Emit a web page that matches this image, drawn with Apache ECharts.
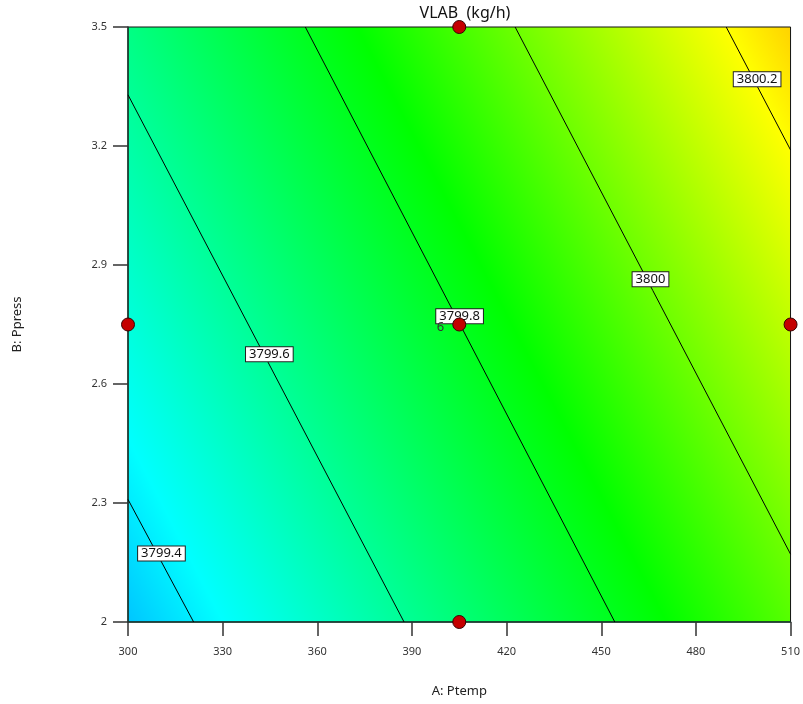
<!DOCTYPE html>
<html>
<head>
<meta charset="utf-8">
<title>VLAB contour</title>
<script src="https://cdn.jsdelivr.net/npm/echarts@6/dist/echarts.min.js"></script>
<style>
  html, body { margin: 0; padding: 0; background: #fff; overflow: hidden; }
  #chart { width: 803px; height: 704px; }
</style>
</head>
<body>
<div id="chart"></div>
<script>
// contour levels and where each line meets the plot border
var contourLevels = [3799.4, 3799.6, 3799.8, 3800, 3800.2];
var contourStarts = [[300, 2.309], [300, 3.329], [356.2, 3.5], [422.7, 3.5], [489.6, 3.5]];
var contourEnds = [[320.8, 2], [387.5, 2], [454.3, 2], [510, 2.171], [510, 3.19]];
var contourLabelPos = [[310.6, 2.173], [344.8, 2.675], [405.1, 2.771], [465.6, 2.864], [499.4, 3.368]];

// design points (A: Ptemp, B: Ppress)
var designPoints = [[300, 2.75], [405, 2.75], [510, 2.75], [405, 2], [405, 3.5]];
var centerReplicates = 6;

// colour scale of the response
var colorValues = [3799.03, 3799.43, 3799.85, 3800.2, 3800.55];
var colorList = ['#0000ff', '#00ffff', '#00ff00', '#ffff00', '#ff0000'];

var xTicks = { min: 300, max: 510, interval: 30 };
var yTicks = { min: 2, max: 3.5, interval: 0.3 };

var chart = echarts.init(document.getElementById('chart'));
var fontFam = 'Noto Sans';

var lineSeries = contourLevels.map(function (lv, i) {
  return {
    name: String(lv),
    type: 'line',
    data: [contourStarts[i], contourEnds[i]],
    symbol: 'none',
    silent: true,
    lineStyle: { color: '#000', width: 1 },
    z: 3
  };
});

var labelData = contourLevels.map(function (lv, i) {
  return { value: contourLabelPos[i].concat([lv]) };
});

var pointData = designPoints.map(function (p) {
  var item = { value: p };
  if (p[0] === 405 && p[1] === 2.75) {
    item.label = {
      show: true,
      position: 'left',
      distance: 8,
      offset: [0, 3],
      formatter: String(centerReplicates),
      color: '#333',
      fontSize: 13,
      fontFamily: fontFam
    };
  }
  return item;
});

chart.setOption({
  animation: false,
  title: {
    text: 'VLAB  (kg/h)',
    left: 460,
    textAlign: 'center',
    top: 0,
    textStyle: { fontSize: 16, fontWeight: 'normal', color: '#111', fontFamily: fontFam }
  },
  grid: {
    left: 128,
    right: 10,
    top: 27,
    bottom: 82,
    show: true,
    borderColor: '#111',
    borderWidth: 1,
    backgroundColor: '#00ff80'
  },
  xAxis: {
    type: 'value',
    min: xTicks.min,
    max: xTicks.max,
    interval: xTicks.interval,
    name: 'A: Ptemp',
    nameLocation: 'middle',
    nameGap: 63,
    nameTextStyle: { fontSize: 13, color: '#222', fontFamily: fontFam },
    axisLine: { lineStyle: { color: '#1a3a30', width: 1.5 } },
    axisTick: { show: true, length: 14, lineStyle: { color: '#333', width: 1.5 } },
    axisLabel: { fontSize: 11, color: '#333', margin: 24, fontFamily: fontFam },
    splitLine: { show: false }
  },
  yAxis: {
    type: 'value',
    min: yTicks.min,
    max: yTicks.max,
    interval: yTicks.interval,
    name: 'B: Ppress',
    nameLocation: 'middle',
    nameGap: 104,
    nameTextStyle: { fontSize: 13, color: '#222', fontFamily: fontFam },
    axisLine: { lineStyle: { color: '#1a3a30', width: 1.5 } },
    axisTick: { show: true, length: 15, lineStyle: { color: '#333', width: 1.5 } },
    axisLabel: {
      fontSize: 11, color: '#333', margin: 21, fontFamily: fontFam,
      formatter: function (v) { return String(Math.round(v * 10) / 10); }
    },
    splitLine: { show: false }
  },
  series: lineSeries.concat([
    {
      name: 'labels',
      type: 'scatter',
      data: labelData,
      symbolSize: 0,
      silent: true,
      z: 4,
      itemStyle: { opacity: 1 },
      label: {
        show: true,
        position: 'inside',
        formatter: function (p) { return String(p.value[2]); },
        fontSize: 13,
        color: '#111',
        fontFamily: fontFam,
        backgroundColor: '#fff',
        borderColor: '#222',
        borderWidth: 1,
        padding: [1, 3, 0, 3]
      }
    },
    {
      name: 'design points',
      type: 'scatter',
      data: pointData,
      symbol: 'circle',
      symbolSize: 13,
      z: 5,
      itemStyle: { color: '#c40000', borderColor: '#3a0000', borderWidth: 1, opacity: 1 }
    }
  ])
});

// fill: linear colour field laid perpendicular to the contour lines
function px(p) { return chart.convertToPixel({ gridIndex: 0 }, p); }
var a0 = px(contourStarts[2]), a1 = px(contourEnds[2]);
var dx = a1[0] - a0[0], dy = a1[1] - a0[1];
var len = Math.sqrt(dx * dx + dy * dy);
var ux = dy / len, uy = -dx / len;
var first = px(contourStarts[0]);
var last = px(contourStarts[contourStarts.length - 1]);
var pFirst = first[0] * ux + first[1] * uy;
var pLast = last[0] * ux + last[1] * uy;
if (pLast < pFirst) { ux = -ux; uy = -uy; pFirst = -pFirst; pLast = -pLast; }
var slope = (contourLevels[contourLevels.length - 1] - contourLevels[0]) / (pLast - pFirst);
var v0 = colorValues[0], v1 = colorValues[colorValues.length - 1];
var pS = pFirst + (v0 - contourLevels[0]) / slope;
var pE = pFirst + (v1 - contourLevels[0]) / slope;
var sx = first[0] + ux * (pS - pFirst), sy = first[1] + uy * (pS - pFirst);
var ex = first[0] + ux * (pE - pFirst), ey = first[1] + uy * (pE - pFirst);
var stops = colorValues.map(function (v, i) {
  return { offset: (v - v0) / (v1 - v0), color: colorList[i] };
});

chart.setOption({
  grid: { backgroundColor: new echarts.graphic.LinearGradient(sx, sy, ex, ey, stops, true) }
});
</script>
</body>
</html>
